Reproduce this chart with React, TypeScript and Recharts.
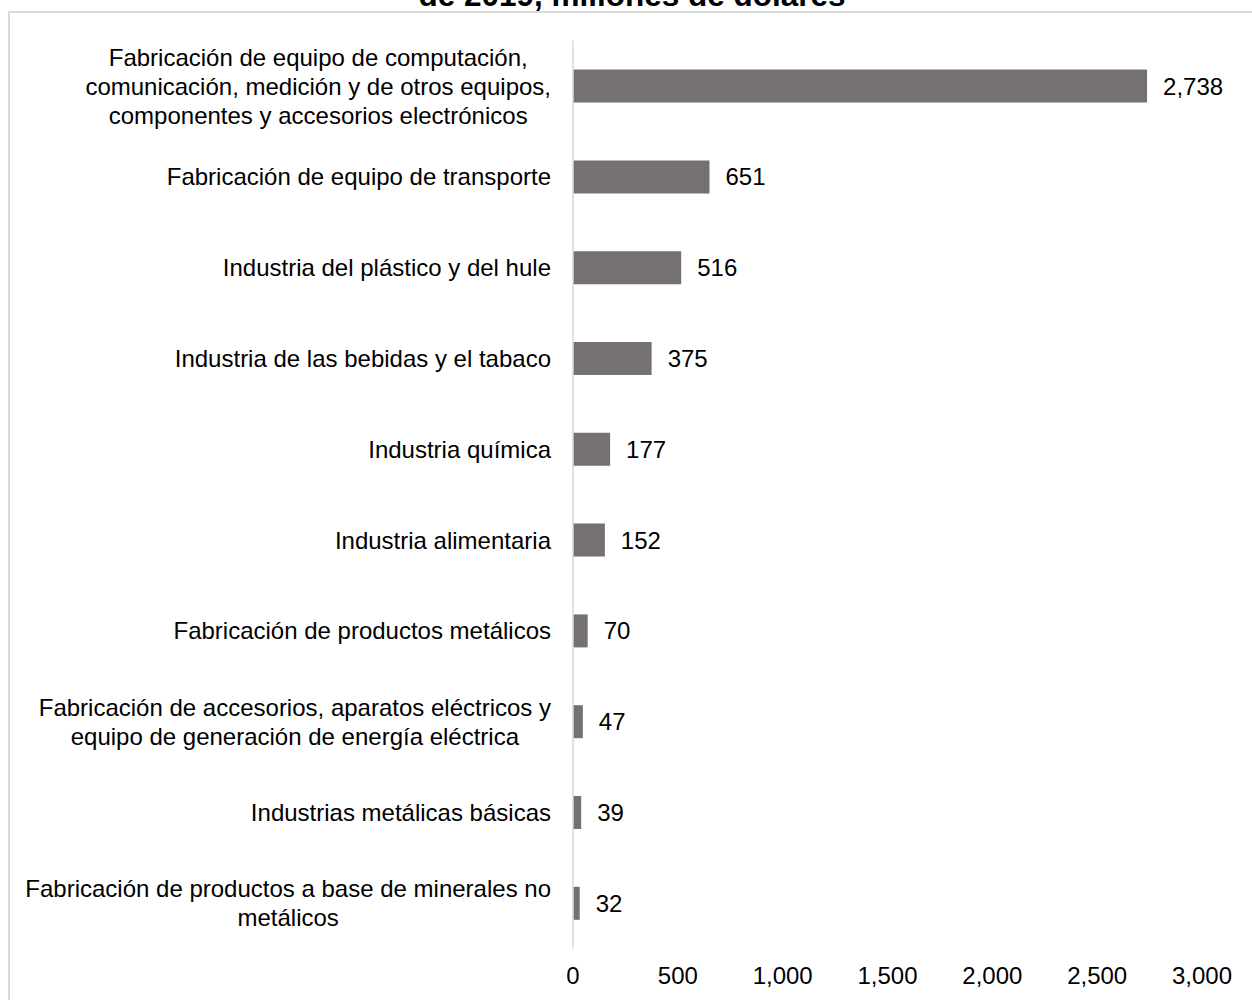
import React from "react";
import { BarChart, Bar, XAxis, YAxis, LabelList } from "recharts";

const categories: string[] = [
  "Fabricación de equipo de computación, comunicación, medición y de otros equipos, componentes y accesorios electrónicos",
  "Fabricación de equipo de transporte",
  "Industria del plástico y del hule",
  "Industria de las bebidas y el tabaco",
  "Industria química",
  "Industria alimentaria",
  "Fabricación de productos metálicos",
  "Fabricación de accesorios, aparatos eléctricos y equipo de generación de energía eléctrica",
  "Industrias metálicas básicas",
  "Fabricación de productos a base de minerales no metálicos",
];

const values: number[] = [2738, 651, 516, 375, 177, 152, 70, 47, 39, 32];

const xTicks: number[] = [0, 500, 1000, 1500, 2000, 2500, 3000];

const titleText = "de 2019, millones de dólares";

const data = categories.map((c, i) => ({ name: c, value: values[i] }));

const FONT = "'Liberation Sans', Arial, sans-serif";
const FONT_SIZE = 24;
const LINE_H = 29;
const MAX_LABEL_W = 545;

let ctx: CanvasRenderingContext2D | null = null;
function measure(text: string): number {
  if (!ctx && typeof document !== "undefined") {
    const c = document.createElement("canvas");
    ctx = c.getContext("2d");
  }
  if (ctx) {
    ctx.font = `${FONT_SIZE}px ${FONT}`;
    return ctx.measureText(text).width;
  }
  return text.length * FONT_SIZE * 0.5;
}

function wrap(text: string): string[] {
  const words = text.split(" ");
  const lines: string[] = [];
  let cur = "";
  for (const w of words) {
    const test = cur ? cur + " " + w : w;
    if (cur && measure(test) > MAX_LABEL_W) {
      lines.push(cur);
      cur = w;
    } else {
      cur = test;
    }
  }
  if (cur) lines.push(cur);
  return lines;
}

const fmt = (v: any) => Number(v).toLocaleString("en-US");

const CategoryTick = (props: any) => {
  const { x, y, payload } = props;
  const lines = wrap(String(payload.value));
  const maxW = Math.max(...lines.map(measure));
  const cx = x - maxW / 2;
  const startY = y - ((lines.length - 1) * LINE_H) / 2;
  return (
    <g>
      {lines.map((l, i) => (
        <text
          key={i}
          x={cx}
          y={startY + i * LINE_H}
          dy="0.36em"
          textAnchor="middle"
          fill="#000"
          fontSize={FONT_SIZE}
          fontFamily={FONT}
        >
          {l}
        </text>
      ))}
    </g>
  );
};

export default function App() {
  return (
    <div
      style={{
        position: "fixed",
        left: 0,
        top: 0,
        width: 1252,
        height: 1000,
        overflow: "hidden",
        background: "#fff",
        fontFamily: FONT,
      }}
    >
      <div
        style={{
          position: "absolute",
          left: 8,
          top: 11,
          width: 1300,
          height: 1100,
          borderLeft: "2px solid #d9d9d9",
          borderTop: "2px solid #d9d9d9",
        }}
      />
      <svg
        width={1252}
        height={40}
        style={{ position: "absolute", left: 0, top: 0 }}
      >
        <text
          x={632}
          y={6}
          textAnchor="middle"
          fontSize={31.5}
          fontWeight="bold"
          fontFamily={FONT}
          fill="#000"
        >
          {titleText}
        </text>
      </svg>
      <div style={{ position: "absolute", left: 0, top: 0 }}>
        <BarChart
          width={1252}
          height={1000}
          data={data}
          layout="vertical"
          margin={{ top: 40.6, bottom: 11.4, left: 10, right: 50 }}
          barSize={33}
        >
          <XAxis
            type="number"
            domain={[0, 3000]}
            ticks={xTicks}
            axisLine={false}
            tickLine={false}
            tickSize={0}
            tickMargin={18}
            tickFormatter={fmt}
            tick={{ fill: "#000", fontSize: FONT_SIZE, fontFamily: FONT }}
            height={40}
            interval={0}
          />
          <YAxis
            type="category"
            dataKey="name"
            width={563}
            axisLine={{ stroke: "#d9d9d9", strokeWidth: 1.5 }}
            tickLine={false}
            tickSize={0}
            tickMargin={22}
            tick={<CategoryTick />}
            interval={0}
          />
          <Bar dataKey="value" fill="#767171" isAnimationActive={false}>
            <LabelList
              dataKey="value"
              position="right"
              offset={16}
              formatter={fmt}
              fill="#000"
              fontSize={FONT_SIZE}
              fontFamily={FONT}
            />
          </Bar>
        </BarChart>
      </div>
    </div>
  );
}
